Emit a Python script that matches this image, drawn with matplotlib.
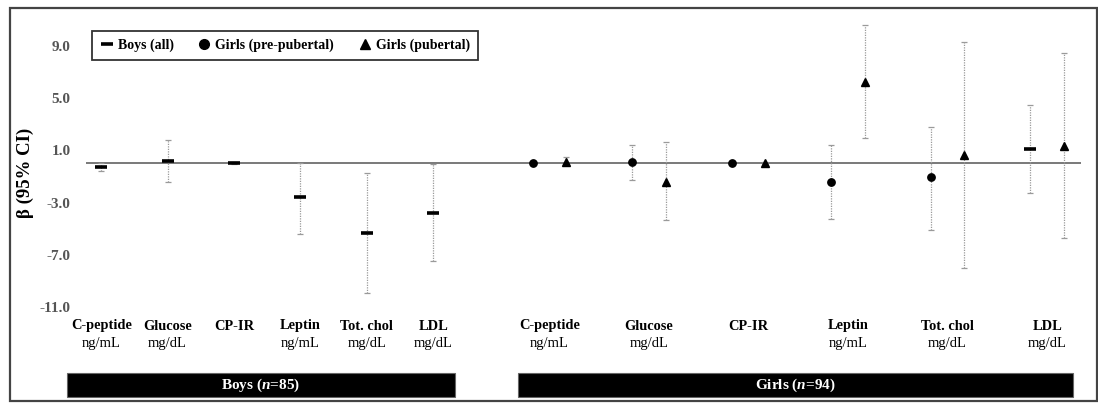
import numpy as np
import matplotlib
matplotlib.use('Agg')
import matplotlib.pyplot as plt
import matplotlib.transforms as mtransforms
from matplotlib.patches import Rectangle

plt.rcParams['font.family'] = ['Liberation Serif', 'DejaVu Serif']
plt.rcParams['mathtext.fontset'] = 'custom'
plt.rcParams['mathtext.rm'] = 'Liberation Serif:bold'
plt.rcParams['mathtext.it'] = 'Liberation Serif:italic:bold'
plt.rcParams['mathtext.bf'] = 'Liberation Serif:bold'

# -------- Data --------
categories = ['C-peptide', 'Glucose', 'CP-IR', 'Leptin', 'Tot. chol', 'LDL']
units = ['ng/mL', 'mg/dL', '', 'ng/mL', 'mg/dL', 'mg/dL']

boys_est = [-0.25, 0.17, 0.0, -2.6, -5.3, -3.77]
boys_lo = [-0.55, -1.44, -0.08, -5.43, -9.95, -7.47]
boys_hi = [0.0, 1.8, 0.08, 0.06, -0.75, -0.06]

girls_pre_est = [0.0, 0.1, 0.0, -1.39, -1.06, 1.13]
girls_pre_lo = [-0.08, -1.3, -0.08, -4.25, -5.07, -2.29]
girls_pre_hi = [0.08, 1.4, 0.08, 1.42, 2.82, 4.48]

girls_pub_est = [0.12, -1.39, 0.0, 6.25, 0.61, 1.34]
girls_pub_lo = [-0.05, -4.33, -0.08, 1.95, -8.01, -5.68]
girls_pub_hi = [0.5, 1.65, 0.08, 10.6, 9.33, 8.44]

yticks = [9.0, 5.0, 1.0, -3.0, -7.0, -11.0]
group_labels = ['Boys ($\\mathit{n}$=85)', 'Girls ($\\mathit{n}$=94)']

# -------- Layout --------
n = len(categories)
boys_x = np.arange(n) * 1.0
girls_x = 6.75 + np.arange(n) * 1.5
off = 0.253
pre_markers = ['o', 'o', 'o', 'o', 'o', '_']

fig = plt.figure(figsize=(10.98, 4.05), dpi=100)
W, H = 1098, 405
ax = fig.add_axes([86 / W, 1 - 307 / H, 995 / W, (307 - 17.3) / H])
ax.set_xlim(-0.23, 14.76)
ax.set_ylim(-11, 11.2)

err_kw = dict(fmt='none', ecolor='#9a9a9a', elinewidth=0.9, capsize=2.5,
              capthick=0.9, zorder=2)


def draw(x, est, lo, hi):
    est = np.array(est)
    yerr = [est - np.array(lo), np.array(hi) - est]
    eb = ax.errorbar(x, est, yerr=yerr, **err_kw)
    eb[2][0].set_linestyle((0, (1, 1)))


ax.axhline(0, color='#555555', lw=1.1, zorder=1)

draw(boys_x, boys_est, boys_lo, boys_hi)
draw(girls_x - off, girls_pre_est, girls_pre_lo, girls_pre_hi)
draw(girls_x + off, girls_pub_est, girls_pub_lo, girls_pub_hi)

h_boys, = ax.plot(boys_x, boys_est, ls='none', marker='_', ms=8, mew=2.6,
                  color='black', zorder=3)
for xi, yi, m in zip(girls_x - off, girls_pre_est, pre_markers):
    if m == '_':
        ax.plot(xi, yi, ls='none', marker='_', ms=8, mew=2.6, color='black', zorder=3)
    else:
        ax.plot(xi, yi, ls='none', marker='o', ms=5.3, color='black', zorder=3)
h_pre, = ax.plot([], [], ls='none', marker='o', ms=7, color='black')
h_pub, = ax.plot(girls_x + off, girls_pub_est, ls='none', marker='^', ms=5.8,
                 color='black', zorder=3)
h_leg_pub, = ax.plot([], [], ls='none', marker='^', ms=7.5, color='black')

ax.set_yticks(yticks)
ax.set_yticklabels(['%.1f' % v for v in yticks], fontsize=11, fontweight='bold',
                   color='#555555')
ax.tick_params(axis='y', length=0, pad=11)
ax.set_xticks([])
for s in ax.spines.values():
    s.set_visible(False)

fig.text(25 / W, 1 - 173 / H, '\u03b2 (95% CI)', rotation=90, fontsize=13.5,
         fontweight='bold', ha='center', va='center')

leg = ax.legend([h_boys, h_pre, h_leg_pub],
                ['Boys (all)', 'Girls (pre-pubertal)', 'Girls (pubertal)'],
                loc='upper left', bbox_to_anchor=(6 / 995, 1 - (31 - 17.3) / 289.7),
                ncol=3, frameon=True, fancybox=False,
                prop={'weight': 'bold', 'size': 10}, handlelength=1.0,
                handletextpad=0.3, columnspacing=1.7, borderpad=0.55,
                borderaxespad=0)
leg.get_frame().set_edgecolor('black')
leg.get_frame().set_linewidth(1.3)

# category labels
tr = mtransforms.blended_transform_factory(ax.transData, fig.transFigure)
for xs in [boys_x, girls_x]:
    for xi, c, u in zip(xs, categories, units):
        ax.text(xi, 1 - 326 / H, c, transform=tr, ha='center', va='center',
                fontsize=10.4, fontweight='bold')
        if u:
            ax.text(xi, 1 - 343 / H, u, transform=tr, ha='center', va='center',
                    fontsize=10.5)

# group bars
bars = [(67, 455), (518, 1073)]
for (x0, x1), lab in zip(bars, group_labels):
    fig.patches.append(Rectangle((x0 / W, 1 - 397 / H), (x1 - x0) / W, 24 / H,
                                 transform=fig.transFigure, facecolor='black',
                                 edgecolor='#666666', lw=0.8))
    fig.text((x0 + x1) / 2 / W, 1 - 385 / H, lab, color='white', fontsize=11,
             fontweight='bold', ha='center', va='center')

# outer frame
fig.patches.append(Rectangle((10 / W, 1 - 401 / H), 1087 / W, 393 / H,
                             transform=fig.transFigure, facecolor='none',
                             edgecolor='#444444', lw=1.6))

fig.savefig('out.png', dpi=100)
